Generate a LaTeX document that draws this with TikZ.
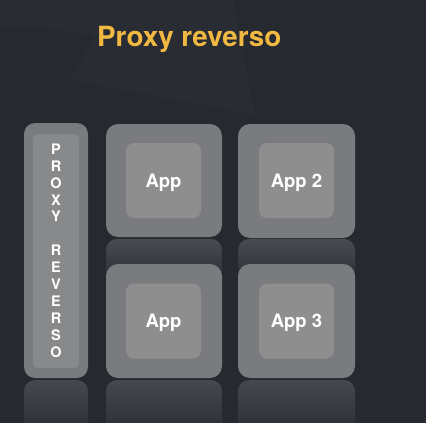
\documentclass[tikz,border=0pt]{standalone}
\usepackage{fontspec}
\setmainfont{TeX Gyre Heros}
\definecolor{bg}{HTML}{272930}
\definecolor{bglight}{HTML}{2A2C33}
\definecolor{outerc}{HTML}{7A7B7E}
\definecolor{innerc}{HTML}{8E8E8F}
\definecolor{proxyin}{HTML}{88898B}
\definecolor{reflc}{HTML}{4A4C52}
\definecolor{titlec}{HTML}{F2B942}
\tikzset{
  outerbox/.style={fill=outerc, draw=none, rounded corners=12pt, inner sep=0pt},
  innerbox/.style={fill=innerc, draw=none, rounded corners=8pt, inner sep=0pt,
    minimum width=75pt, minimum height=75pt, text=white, text depth=0pt,
    font=\fontsize{18.5}{22}\selectfont\bfseries},
  refl/.style={top color=reflc, bottom color=bg, draw=none, rounded corners=11pt},
}
\begin{document}
\begin{tikzpicture}[x=1pt,y=-1pt]
\useasboundingbox (0,0) rectangle (426,423);
\clip (0,0) rectangle (426,423);
\fill[bg] (0,0) rectangle (426,423);
\fill[bglight] (0,0) -- (233,0) -- (255,115) -- (71,80) -- (95,36) .. controls (60,28) and (20,26) .. (0,28) -- cycle;
% title
\node[text=titlec, font=\fontsize{27.8}{32}\selectfont\bfseries, anchor=base west, inner sep=0pt] (title) at (97,46) {Proxy reverso};
% reflections
\shade[refl] (106,239) rectangle (222,285);
\shade[refl] (238,239) rectangle (355,285);
\shade[refl, top color=reflc!90!bg] (24,380) rectangle (88,440);
\shade[refl, top color=reflc!90!bg] (106,380) rectangle (222,440);
\shade[refl, top color=reflc!90!bg] (238,380) rectangle (355,440);
% proxy
\node[outerbox, rounded corners=11pt, minimum width=64pt, minimum height=255pt] (proxyout) at (56,250.5) {};
\node[fill=proxyin, rounded corners=5pt, inner sep=0pt, minimum width=46pt, minimum height=234pt] (proxyin) at (56,251) {};
\node[text=white, align=center, font=\fontsize{14.5}{16.9}\selectfont\bfseries, inner sep=0pt] (proxytext) at (56,250.5)
  {P\\R\\O\\X\\Y\\[16.9pt]R\\E\\V\\E\\R\\S\\O};
% apps
\node[outerbox, minimum width=116pt, minimum height=113pt] (a1out) at (164,180.5) {};
\node[innerbox] (a1) at (163.5,180.5) {App};
\node[outerbox, minimum width=116pt, minimum height=114pt] (a2out) at (164,321) {};
\node[innerbox] (a2) at (163.5,321) {App};
\node[outerbox, minimum width=117pt, minimum height=114pt] (b1out) at (296.5,181) {};
\node[innerbox] (b1) at (296.5,180.5) {App 2};
\node[outerbox, minimum width=117pt, minimum height=114pt] (b2out) at (296.5,321) {};
\node[innerbox] (b2) at (296.5,321) {App 3};
\end{tikzpicture}
\end{document}
